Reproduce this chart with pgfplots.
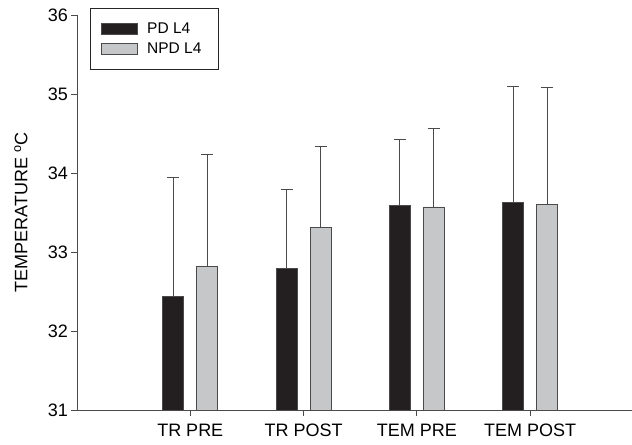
\documentclass[border=0pt]{standalone}
\usepackage{fontspec}
\setmainfont{Liberation Sans}
\usepackage{pgfplots}
\pgfplotsset{compat=1.18}
\usetikzlibrary{calc}
\definecolor{barblack}{HTML}{231F20}
\definecolor{bargray}{HTML}{C6C7C9}
\definecolor{edgegray}{HTML}{4A4A4A}
\begin{document}
\begin{tikzpicture}
\begin{axis}[
  scale only axis,
  width=555pt, height=395pt,
  xmin=-1, xmax=3.9,
  ymin=31, ymax=36,
  ytick={31,32,33,34,35,36},
  xtick={0,1,2,3},
  xticklabels={TR PRE, TR POST, TEM PRE, TEM POST},
  axis x line*=bottom, axis y line*=left,
  axis line style={draw=edgegray, line width=0.9pt, -},
  tick align=outside,
  major tick length=5.5pt,
  tick style={draw=edgegray, line width=0.9pt},
  /pgf/number format/assume math mode=true,
  ticklabel style={font=\fontsize{18}{20}\selectfont},
  xticklabel style={yshift=-5pt},
  ylabel={TEMPERATURE \textsuperscript{o}C},
  ylabel style={font=\fontsize{18}{20}\selectfont, at={(axis description cs:-0.1009,0.5)}, anchor=center},
  ybar=13pt, bar width=21pt,
  area legend,
  legend image code/.code={\draw[#1] (0pt,-5.7pt) rectangle (36pt,5.7pt);},
  legend style={at={(axis description cs:0.0234,1)}, yshift=7pt, anchor=north west,
    draw=black!85, line width=0.8pt, font=\fontsize{15.5}{17}\selectfont,
    inner xsep=11pt, inner ysep=14.5pt, row sep=8pt, column sep=9pt,
    nodes={inner sep=0pt}, cells={anchor=west}},
  error bars/error bar style={draw=edgegray, line width=0.9pt},
  error bars/error mark options={draw=edgegray, line width=0.9pt, mark size=6pt, rotate=90},
]
\addplot[fill=barblack, draw=edgegray, line width=0.8pt,
  error bars/.cd, y dir=plus, y explicit]
  coordinates {(0,32.44) +- (0,1.51) (1,32.79) +- (0,1.00) (2,33.59) +- (0,0.84) (3,33.63) +- (0,1.46)};
\addplot[fill=bargray, draw=edgegray, line width=0.8pt,
  error bars/.cd, y dir=plus, y explicit]
  coordinates {(0,32.82) +- (0,1.41) (1,33.31) +- (0,1.02) (2,33.57) +- (0,0.99) (3,33.60) +- (0,1.48)};
\legend{PD L4, NPD L4\hspace*{5.5pt}}
\end{axis}
\pgfresetboundingbox
\path ($(current axis.south west)+(-77pt,-34pt)$) rectangle ($(current axis.north east)+(0pt,15pt)$);
\end{tikzpicture}
\end{document}
